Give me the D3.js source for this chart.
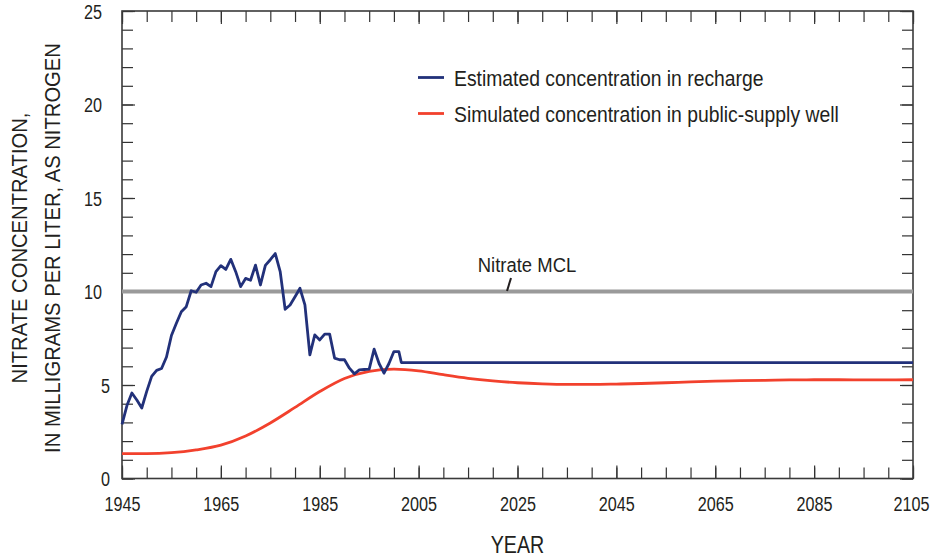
<!DOCTYPE html>
<html>
<head>
<meta charset="utf-8">
<script src="https://cdn.jsdelivr.net/npm/d3@7"></script>
<style>
  html, body { margin: 0; padding: 0; background: #fff; }
  svg { display: block; }
  text { font-family: "Liberation Sans", Arial, sans-serif; fill: #231f20; }
</style>
</head>
<body>
<svg id="chart" width="930" height="560"></svg>
<script>
// ---- data ----
const rechargeYears = [1945,1946,1947,1948,1949,1950,1951,1952,1953,1954,1955,1956,1957,1958,1959,1960,1961,1962,1963,1964,1965,1966,1967,1968,1969,1970,1971,1972,1973,1974,1975,1976,1977,1978,1979,1980,1981,1982,1983,1984,1985,1986,1987,1988,1989,1990,1991,1992,1993,1994,1995,1996,1997,1998,1999,2000,2001,2001.5,2105];
const rechargeValues = [2.9,3.9,4.57,4.2,3.77,4.66,5.46,5.78,5.88,6.5,7.65,8.3,8.92,9.19,10.04,9.96,10.35,10.44,10.26,11.06,11.38,11.18,11.72,11.06,10.26,10.7,10.6,11.41,10.35,11.4,11.7,12.03,11.06,9.05,9.28,9.72,10.17,9.28,6.61,7.68,7.41,7.72,7.72,6.44,6.35,6.35,5.9,5.6,5.81,5.83,5.85,6.92,6.15,5.63,6.15,6.79,6.79,6.2,6.2];
const wellYears = [1945,1950,1955,1960,1965,1970,1975,1980,1985,1990,1995,2000,2005,2010,2015,2020,2025,2030,2035,2040,2045,2050,2055,2060,2065,2070,2075,2080,2085,2090,2095,2100,2105];
const wellValues = [1.33,1.33,1.38,1.53,1.78,2.27,2.97,3.8,4.65,5.35,5.73,5.85,5.76,5.55,5.36,5.22,5.12,5.06,5.03,5.03,5.05,5.08,5.12,5.17,5.21,5.23,5.25,5.27,5.28,5.28,5.27,5.27,5.28];
const mclValue = 10;
const xMajorTicks = [1945,1965,1985,2005,2025,2045,2065,2085,2105];
const yMajorTicks = [0,5,10,15,20,25];
const seriesNames = ["Estimated concentration in recharge", "Simulated concentration in public-supply well"];
const seriesColors = ["#22317a", "#f2412d"];
const mclLabel = "Nitrate MCL";
const xTitle = "YEAR";
const yTitleLines = ["NITRATE CONCENTRATION,", "IN  MILLIGRAMS PER LITER, AS NITROGEN"];

// ---- layout ----
const L = 122, R = 913, T = 11, B = 478.5;
const svg = d3.select("#chart");
const x = d3.scaleLinear().domain([1945, 2105]).range([L, R]);
const y = d3.scaleLinear().domain([0, 25]).range([B, T]);

const xMinor = d3.range(1945, 2106, 5);
const yMinor = d3.range(0, 26, 1);
const tickColor = "#333";

function styleAxis(g) {
  g.select(".domain").remove();
  g.selectAll(".tick line").attr("stroke", tickColor).attr("stroke-width", 1.2);
}
// condensed text helper (horizontal squeeze to mimic a condensed face)
function ctext(px, py, str, size, sx, anchor) {
  return svg.append("text")
    .attr("transform", `translate(${px},${py}) scale(${sx},1)`)
    .attr("text-anchor", anchor || "start")
    .style("font-size", size + "px").text(str);
}

// minor ticks (all four sides)
svg.append("g").attr("transform", `translate(0,${B})`)
  .call(d3.axisBottom(x).tickValues(xMinor).tickSize(-11).tickFormat("")).call(styleAxis);
svg.append("g").attr("transform", `translate(0,${T})`)
  .call(d3.axisTop(x).tickValues(xMinor).tickSize(-11).tickFormat("")).call(styleAxis);
svg.append("g").attr("transform", `translate(${L},0)`)
  .call(d3.axisLeft(y).tickValues(yMinor).tickSize(-11).tickFormat("")).call(styleAxis);
svg.append("g").attr("transform", `translate(${R},0)`)
  .call(d3.axisRight(y).tickValues(yMinor).tickSize(-11).tickFormat("")).call(styleAxis);

// major ticks with labels
const tickSX = 0.81;
const lastYear = xMajorTicks[xMajorTicks.length - 1];
const xAx = svg.append("g").attr("transform", `translate(0,${B})`)
  .call(d3.axisBottom(x).tickValues(xMajorTicks).tickSize(-13).tickPadding(18).tickFormat(d3.format("d")));
styleAxis(xAx);
xAx.selectAll("text").style("font-size", "20px").style("font-family", "'Liberation Sans', Arial, sans-serif")
  .attr("fill", "#231f20").attr("transform", `scale(${tickSX},1)`);
// keep the last label inside the picture edge (as in the reference)
xAx.selectAll(".tick").filter(d => d === lastYear).select("text")
  .attr("text-anchor", "end").attr("x", 16 / tickSX);
svg.append("g").attr("transform", `translate(0,${T})`)
  .call(d3.axisTop(x).tickValues(xMajorTicks).tickSize(-13).tickFormat("")).call(styleAxis);
const yAx = svg.append("g").attr("transform", `translate(${L},0)`)
  .call(d3.axisLeft(y).tickValues(yMajorTicks).tickSize(-13).tickFormat(d3.format("d")));
styleAxis(yAx);
yAx.selectAll("text").style("font-size", "20px").style("font-family", "'Liberation Sans', Arial, sans-serif")
  .attr("fill", "#231f20")
  .attr("x", d => (d < 10 ? -12 : -20) / tickSX).attr("dy", "0.36em")
  .attr("transform", `scale(${tickSX},1)`);
svg.append("g").attr("transform", `translate(${R},0)`)
  .call(d3.axisRight(y).tickValues(yMajorTicks).tickSize(-13).tickFormat("")).call(styleAxis);

// frame
svg.append("rect").attr("x", L).attr("y", T).attr("width", R - L).attr("height", B - T)
  .attr("fill", "none").attr("stroke", "#3a3a3a").attr("stroke-width", 1.6);

// MCL line
svg.append("line").attr("x1", x(1945)).attr("x2", x(2105)).attr("y1", y(mclValue)).attr("y2", y(mclValue))
  .attr("stroke", "#9a9a9a").attr("stroke-width", 4);

// series
const lineRecharge = d3.line().x(d => x(d[0])).y(d => y(d[1]));
const lineWell = d3.line().x(d => x(d[0])).y(d => y(d[1])).curve(d3.curveMonotoneX);
svg.append("path").datum(wellYears.map((yr, i) => [yr, wellValues[i]]))
  .attr("d", lineWell).attr("fill", "none").attr("stroke", seriesColors[1]).attr("stroke-width", 2.8);
svg.append("path").datum(rechargeYears.map((yr, i) => [yr, rechargeValues[i]]))
  .attr("d", lineRecharge).attr("fill", "none").attr("stroke", seriesColors[0]).attr("stroke-width", 2.8)
  .attr("stroke-linejoin", "round");

// MCL label + leader
ctext(527, 272, mclLabel, 21, 0.88, "middle");
svg.append("line").attr("x1", 507).attr("y1", 291).attr("x2", 511).attr("y2", 278)
  .attr("stroke", "#231f20").attr("stroke-width", 2);

// legend
seriesNames.forEach((name, i) => {
  const ly = 77.5 + i * 36;
  svg.append("line").attr("x1", 418).attr("x2", 444).attr("y1", ly).attr("y2", ly)
    .attr("stroke", seriesColors[i]).attr("stroke-width", 2.8);
  ctext(454, ly + 8, name, 21.5, 0.9, "start");
});

// axis titles
ctext((L + R) / 2, 553, xTitle, 24, 0.82, "middle");
yTitleLines.forEach((t, i) => {
  svg.append("text").attr("transform", `translate(${27 + i * 33},248) rotate(-90) scale(0.94,1)`)
    .attr("text-anchor", "middle").style("font-size", "21.5px").text(t);
});
</script>
</body>
</html>
